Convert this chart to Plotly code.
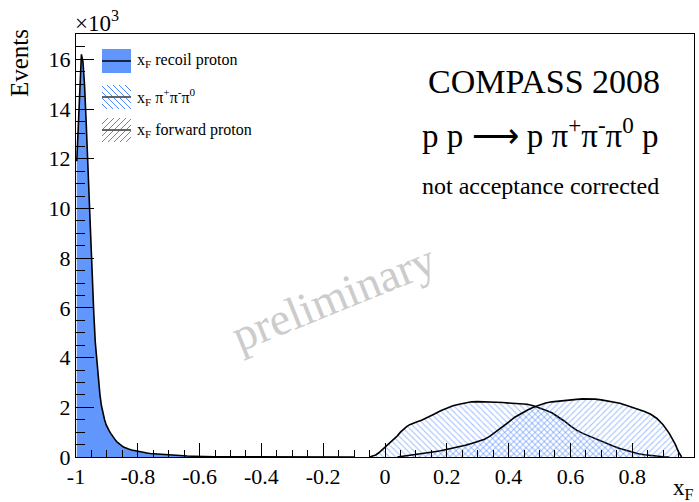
import plotly.graph_objects as go

# ---------------- data (values in thousands of events) ----------------
recoil_x = [-0.9975, -0.9925, -0.9875, -0.9825, -0.9775, -0.9725, -0.9675, -0.9625,
            -0.9575, -0.9525, -0.9475, -0.9425, -0.9375, -0.9325, -0.9275, -0.9225,
            -0.9175, -0.9125, -0.9075, -0.9025, -0.8975, -0.8925, -0.8875, -0.8825,
            -0.8775, -0.8725, -0.8675, -0.8625, -0.8575, -0.8525, -0.8475, -0.8425,
            -0.8375, -0.83, -0.82, -0.81, -0.80, -0.79, -0.78, -0.77, -0.76, -0.75,
            -0.74, -0.72, -0.70, -0.68, -0.66, -0.64, -0.62, -0.60, -0.58, -0.55,
            -0.50, -0.40, -0.30, -0.20, -0.10]
recoil_y = [11.9, 13.6, 15.2, 16.2, 15.9, 15.0, 13.6, 12.0,
            10.1, 8.3, 6.9, 5.8, 4.6, 3.8, 3.1, 2.5,
            2.05, 1.75, 1.5, 1.3, 1.15, 1.05, 0.95, 0.85,
            0.77, 0.68, 0.61, 0.55, 0.5, 0.45, 0.41, 0.38,
            0.35, 0.32, 0.28, 0.25, 0.22, 0.2, 0.18, 0.16, 0.14, 0.13,
            0.12, 0.10, 0.08, 0.065, 0.05, 0.04, 0.03, 0.02, 0.015, 0.01,
            0.005, 0.003, 0.002, 0.002, 0.003]

pi_x = [-0.05, -0.04, -0.03, -0.02, -0.01, 0.0, 0.01, 0.02, 0.03, 0.04, 0.05, 0.06,
        0.07, 0.08, 0.09, 0.10, 0.12, 0.14, 0.16, 0.18, 0.20, 0.22, 0.24, 0.26,
        0.28, 0.30, 0.32, 0.34, 0.36, 0.38, 0.40, 0.42, 0.44, 0.46, 0.48, 0.50,
        0.52, 0.54, 0.56, 0.58, 0.60, 0.62, 0.64, 0.66, 0.68, 0.70, 0.72, 0.74,
        0.76, 0.78, 0.80, 0.82, 0.84, 0.86, 0.88, 0.90, 0.92]
pi_y = [0.0, 0.03, 0.08, 0.17, 0.28, 0.4, 0.5, 0.6, 0.72, 0.85, 1.0, 1.13,
        1.22, 1.3, 1.36, 1.4, 1.49, 1.6, 1.73, 1.86, 1.97, 2.06, 2.12, 2.18,
        2.22, 2.23, 2.23, 2.22, 2.2, 2.19, 2.18, 2.17, 2.15, 2.12, 2.06, 1.98,
        1.88, 1.78, 1.62, 1.45, 1.25, 1.08, 0.95, 0.84, 0.73, 0.63, 0.53, 0.43,
        0.34, 0.26, 0.19, 0.13, 0.09, 0.06, 0.03, 0.01, 0.0]

fwd_x = [0.04, 0.06, 0.08, 0.10, 0.12, 0.14, 0.16, 0.18, 0.20, 0.22, 0.24, 0.26,
         0.28, 0.30, 0.32, 0.34, 0.36, 0.38, 0.40, 0.42, 0.44, 0.46, 0.48, 0.50,
         0.52, 0.54, 0.56, 0.58, 0.60, 0.62, 0.64, 0.66, 0.68, 0.70, 0.72, 0.74,
         0.76, 0.78, 0.80, 0.82, 0.84, 0.86, 0.88, 0.90, 0.92, 0.94, 0.95, 0.96]
fwd_y = [0.0, 0.03, 0.06, 0.1, 0.13, 0.17, 0.21, 0.25, 0.3, 0.35, 0.41, 0.47,
         0.54, 0.61, 0.7, 0.84, 1.02, 1.22, 1.4, 1.6, 1.75, 1.88, 2.0, 2.1,
         2.17, 2.22, 2.25, 2.28, 2.3, 2.32, 2.34, 2.35, 2.33, 2.3, 2.26, 2.22,
         2.16, 2.08, 2.0, 1.92, 1.83, 1.72, 1.55, 1.3, 0.95, 0.5, 0.2, 0.0]

x_ticks = [-1, -0.8, -0.6, -0.4, -0.2, 0, 0.2, 0.4, 0.6, 0.8, 1]
x_tick_labels = ["-1", "-0.8", "-0.6", "-0.4", "-0.2", "0", "0.2", "0.4", "0.6", "0.8", "1"]
y_ticks = [0, 2, 4, 6, 8, 10, 12, 14, 16]

legend_labels = ["x<sub>F</sub> recoil proton",
                 "x<sub>F</sub> π<sup>+</sup>π<sup>-</sup>π<sup>0</sup>",
                 "x<sub>F</sub> forward proton"]

# ---------------- style ----------------
FONT = "Liberation Serif, Times New Roman, Times, serif"
BLUE = "rgb(97,151,253)"
HATCH = "rgb(75,135,252)"
W, H = 699, 502
L, R, T, B = 76, 694, 34, 457


def px_x(px):
    return (px - L) / (R - L)


def px_y(py):
    return (B - py) / (B - T)


fig = go.Figure()

fig.add_trace(go.Scatter(x=recoil_x, y=recoil_y, mode="lines", fill="tozeroy",
                         fillcolor=BLUE, line=dict(color="black", width=1.6),
                         showlegend=False))
fig.add_trace(go.Scatter(x=pi_x, y=pi_y, mode="lines", fill="tozeroy",
                         fillcolor="rgba(0,0,0,0)",
                         fillpattern=dict(shape="\\", fgcolor=HATCH, bgcolor="rgba(0,0,0,0)",
                                          size=4.3, solidity=0.25),
                         line=dict(color="black", width=1.6), showlegend=False))
fig.add_trace(go.Scatter(x=fwd_x, y=fwd_y, mode="lines", fill="tozeroy",
                         fillcolor="rgba(0,0,0,0)",
                         fillpattern=dict(shape="/", fgcolor=HATCH, bgcolor="rgba(0,0,0,0)",
                                          size=4.3, solidity=0.25),
                         line=dict(color="black", width=1.6), showlegend=False))

# ---------------- manual legend ----------------
shapes = []
annotations = []
box_x0, box_x1 = 102, 131
rows = [61, 97, 130]
half = 12


def hatch_segments(x0, x1, y0, y1, direction, step=6.0):
    segs = []
    if direction == "back":  # top-left to bottom-right: y = x + c
        c = y0 - x1
        while c <= y1 - x0:
            xa = max(x0, y0 - c)
            xb = min(x1, y1 - c)
            if xb > xa:
                segs.append((xa, xa + c, xb, xb + c))
            c += step
    else:  # forward slash: y = -x + c
        c = x0 + y0
        while c <= x1 + y1:
            xa = max(x0, c - y1)
            xb = min(x1, c - y0)
            if xb > xa:
                segs.append((xa, c - xa, xb, c - xb))
            c += step
    return segs


shapes.append(dict(type="rect", xref="paper", yref="paper",
                   x0=px_x(box_x0), x1=px_x(box_x1), y0=px_y(rows[0] + half), y1=px_y(rows[0] - half),
                   fillcolor=BLUE, line=dict(width=0)))
shapes.append(dict(type="line", xref="paper", yref="paper",
                   x0=px_x(box_x0), x1=px_x(box_x1), y0=px_y(rows[0]), y1=px_y(rows[0]),
                   line=dict(color="black", width=1.5)))
for row, d in [(rows[1], "back"), (rows[2], "fwd")]:
    for a, b, c2, d2 in hatch_segments(box_x0, box_x1, row - half, row + half, d):
        shapes.append(dict(type="line", xref="paper", yref="paper",
                           x0=px_x(a), y0=px_y(b), x1=px_x(c2), y1=px_y(d2),
                           line=dict(color=HATCH, width=1)))
    shapes.append(dict(type="line", xref="paper", yref="paper",
                       x0=px_x(box_x0), x1=px_x(box_x1), y0=px_y(row), y1=px_y(row),
                       line=dict(color="#555555", width=1.8)))

for row, lab in zip(rows, legend_labels):
    annotations.append(dict(xref="paper", yref="paper", x=px_x(135), y=px_y(row),
                            xanchor="left", yanchor="middle", showarrow=False, text=lab,
                            font=dict(family=FONT, size=16, color="black")))

# ---------------- texts ----------------
annotations += [
    dict(xref="paper", yref="paper", x=px_x(544), y=px_y(81), text="COMPASS 2008",
         showarrow=False, xanchor="center", yanchor="middle",
         font=dict(family=FONT, size=34, color="black")),
    dict(xref="paper", yref="paper", x=px_x(540), y=px_y(133),
         text="p p ⟶ p π<sup>+</sup>π<sup>-</sup>π<sup>0</sup> p",
         showarrow=False, xanchor="center", yanchor="middle",
         font=dict(family=FONT, size=33, color="black")),
    dict(xref="paper", yref="paper", x=px_x(540), y=px_y(186), text="not acceptance corrected",
         showarrow=False, xanchor="center", yanchor="middle",
         font=dict(family=FONT, size=24, color="black")),
    dict(xref="paper", yref="paper", x=px_x(333), y=px_y(297), text="preliminary",
         showarrow=False, xanchor="center", yanchor="middle", textangle=-22,
         font=dict(family=FONT, size=46, color="rgb(204,204,204)")),
    dict(xref="paper", yref="paper", x=px_x(73), y=px_y(22), text="×10<sup>3</sup>",
         showarrow=False, xanchor="left", yanchor="middle",
         font=dict(family=FONT, size=23, color="black")),
    dict(xref="paper", yref="paper", x=px_x(19), y=px_y(63), text="Events",
         showarrow=False, xanchor="center", yanchor="middle", textangle=-90,
         font=dict(family=FONT, size=25, color="black")),
    dict(xref="paper", yref="paper", x=px_x(696), y=px_y(489), text="x<sub>F</sub>",
         showarrow=False, xanchor="right", yanchor="middle",
         font=dict(family=FONT, size=23, color="black")),
]

fig.update_layout(
    width=W, height=H,
    margin=dict(l=L, r=W - R, t=T, b=H - B, pad=0),
    paper_bgcolor="white", plot_bgcolor="white",
    showlegend=False,
    shapes=shapes, annotations=annotations,
    font=dict(family=FONT, size=22, color="black"),
)
fig.update_xaxes(range=[-1, 1], tickvals=x_ticks, ticktext=x_tick_labels,
                 ticks="inside", ticklen=14, tickwidth=1, tickcolor="black",
                 minor=dict(ticks="inside", dtick=0.05, ticklen=7, tickwidth=1, tickcolor="black"),
                 showline=True, linecolor="black", linewidth=1, mirror=True,
                 showgrid=False, zeroline=False,
                 tickfont=dict(family=FONT, size=22, color="black"))
fig.update_yaxes(range=[0, 17.02], tickvals=y_ticks,
                 ticks="inside", ticklen=18, tickwidth=1, tickcolor="black",
                 minor=dict(ticks="inside", dtick=0.5, ticklen=9, tickwidth=1, tickcolor="black"),
                 showline=True, linecolor="black", linewidth=1, mirror=True,
                 showgrid=False, zeroline=False,
                 tickfont=dict(family=FONT, size=22, color="black"))

fig.write_html("out.html")
